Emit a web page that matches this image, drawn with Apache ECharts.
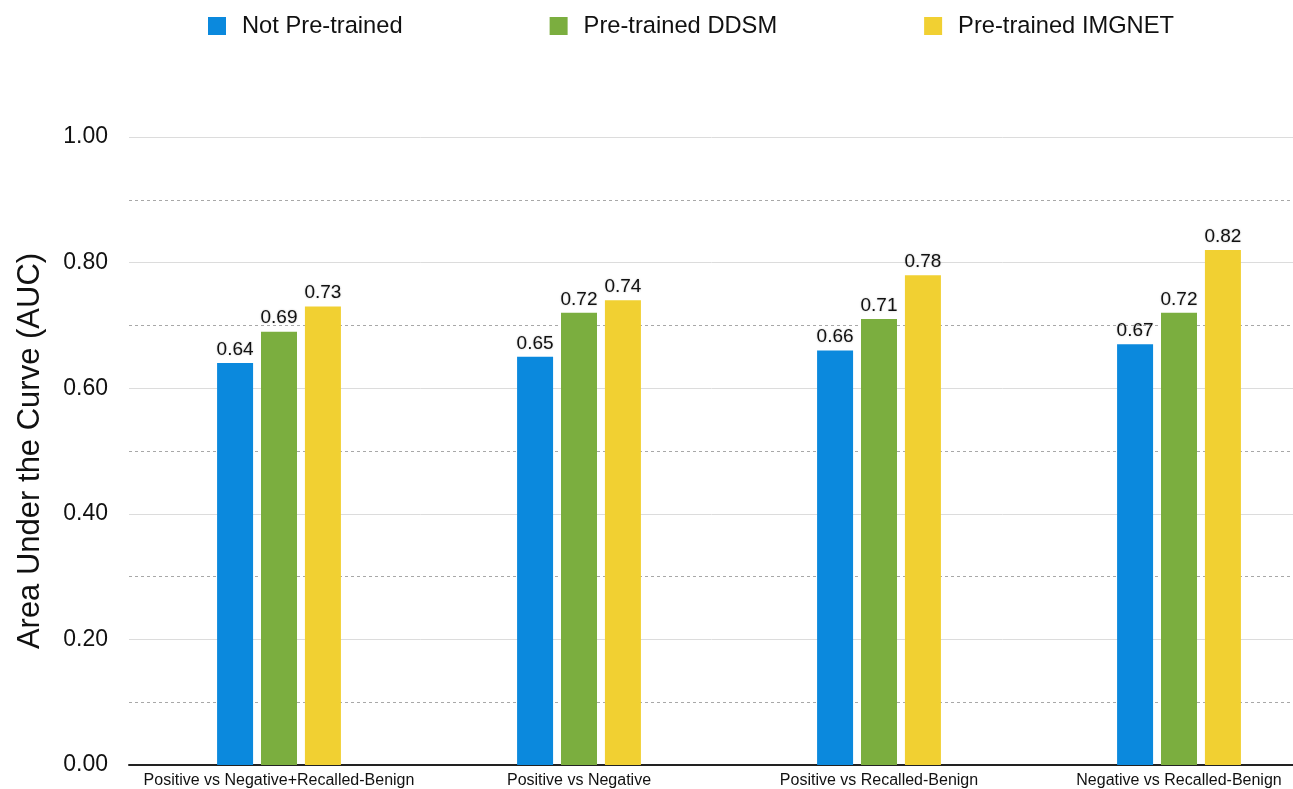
<!DOCTYPE html>
<html>
<head>
<meta charset="utf-8">
<script src="https://cdn.jsdelivr.net/npm/echarts@6/dist/echarts.min.js"></script>
<style>
  html, body { margin: 0; padding: 0; background: #fff; }
  #chart { width: 1293px; height: 789px; }
</style>
</head>
<body>
<div id="chart"></div>
<script>
// Comparison groups on the x axis
const categories = [
  'Positive vs Negative+Recalled-Benign',
  'Positive vs Negative',
  'Positive vs Recalled-Benign',
  'Negative vs Recalled-Benign'
];

// AUC per training setup
const notPretrained = [0.64, 0.65, 0.66, 0.67];
const pretrainedDDSM = [0.69, 0.72, 0.71, 0.72];
const pretrainedIMGNET = [0.73, 0.74, 0.78, 0.82];

const seriesNames = ['Not Pre-trained', 'Pre-trained DDSM', 'Pre-trained IMGNET'];
const colors = ['#0b89dd', '#7bae3f', '#f1d032'];

const FONT = 'Liberation Sans, Arial, Helvetica, sans-serif';

const chart = echarts.init(document.getElementById('chart'), null, { renderer: 'canvas' });

function barSeries(name, data, color) {
  return {
    name: name,
    type: 'bar',
    data: data,
    barWidth: 36,
    barGap: '22%',
    itemStyle: { color: color },
    label: {
      show: true,
      position: 'top',
      distance: 4,
      fontFamily: FONT,
      fontSize: 19,
      color: '#111',
      formatter: p => p.value.toFixed(2),
      textShadowColor: 'rgba(0,0,0,0.25)',
      textShadowBlur: 2
    }
  };
}

chart.setOption({
  animation: false,
  textStyle: { fontFamily: FONT },
  legend: {
    top: 9,
    left: 203,
    itemWidth: 18,
    itemHeight: 18,
    itemGap: 147,
    icon: 'rect',
    textStyle: { fontFamily: FONT, fontSize: 23.7, color: '#111', padding: [0, 0, 0, 11] },
    data: seriesNames
  },
  // the plot runs past the right edge of the canvas
  grid: { left: 129, top: 137, width: 1200, height: 628, outerBoundsMode: 'none', containLabel: false },
  xAxis: {
    type: 'category',
    data: categories,
    axisLine: { lineStyle: { color: '#222', width: 2 } },
    axisTick: { show: false },
    axisLabel: { fontFamily: FONT, fontSize: 16, color: '#111', margin: 8, interval: 0, hideOverlap: false }
  },
  yAxis: {
    type: 'value',
    min: 0,
    max: 1,
    interval: 0.2,
    name: 'Area Under the Curve (AUC)',
    nameLocation: 'middle',
    nameGap: 83,
    nameTextStyle: { fontFamily: FONT, fontSize: 31, color: '#111' },
    axisLine: { show: false },
    axisTick: { show: false },
    axisLabel: {
      fontFamily: FONT, fontSize: 23, color: '#111', margin: 21,
      formatter: v => v.toFixed(2)
    },
    splitLine: { lineStyle: { color: '#dcdcdc', width: 1 } },
    minorTick: { show: false, splitNumber: 2 },
    minorSplitLine: { show: true, lineStyle: { color: '#a8a8a8', width: 1, type: [3, 3] } }
  },
  series: [
    barSeries(seriesNames[0], notPretrained, colors[0]),
    barSeries(seriesNames[1], pretrainedDDSM, colors[1]),
    barSeries(seriesNames[2], pretrainedIMGNET, colors[2])
  ]
});
</script>
</body>
</html>
